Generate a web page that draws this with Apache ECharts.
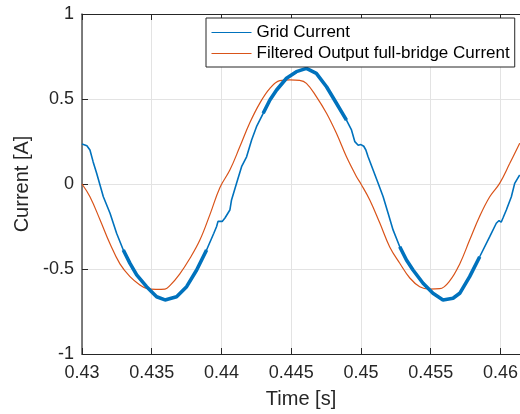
<!DOCTYPE html>
<html><head><meta charset="utf-8">
<script src="https://cdn.jsdelivr.net/npm/echarts@6/dist/echarts.min.js"></script>
<style>html,body{margin:0;padding:0;background:#fff}#c{width:520px;height:414px}</style>
</head><body><div id="c"></div>
<script>
const seriesNames = ['Grid Current', 'Filtered Output full-bridge Current'];
const xTicks = [0.43, 0.435, 0.44, 0.445, 0.45, 0.455, 0.46];
const yTicks = [-1, -0.5, 0, 0.5, 1];

const gridTime = [0.4300,0.4302,0.43035,0.43057,0.4308,0.43105,0.43153,0.43201,0.43248,0.43296,0.43344,0.43392,0.43463,0.43535,0.43595,0.43678,0.4375,0.43822,0.43893,0.43945,0.43965,0.43975,0.43989,0.44005,0.44025,0.44036,0.4406,0.44072,0.44108,0.44144,0.4418,0.44216,0.44251,0.44299,0.44347,0.44395,0.44466,0.44537,0.44609,0.4468,0.44753,0.44824,0.44896,0.44932,0.44956,0.4498,0.4500,0.4502,0.45035,0.45051,0.45087,0.45123,0.45159,0.45194,0.4523,0.45278,0.45326,0.45373,0.45445,0.45516,0.45588,0.4566,0.45708,0.45779,0.45851,0.45923,0.4597,0.4599,0.46005,0.46018,0.46042,0.46078,0.46102,0.46138];
const gridCurrent = [0.235,0.23,0.225,0.2,0.13,0.063,-0.075,-0.172,-0.29,-0.388,-0.467,-0.535,-0.604,-0.663,-0.682,-0.663,-0.604,-0.506,-0.388,-0.29,-0.25,-0.22,-0.212,-0.22,-0.2,-0.192,-0.153,-0.094,0.004,0.102,0.16,0.259,0.337,0.416,0.494,0.553,0.622,0.661,0.68,0.651,0.572,0.475,0.376,0.318,0.249,0.228,0.232,0.222,0.2,0.16,0.082,0.004,-0.075,-0.17,-0.27,-0.369,-0.447,-0.506,-0.584,-0.643,-0.682,-0.672,-0.643,-0.545,-0.428,-0.31,-0.231,-0.215,-0.225,-0.2,-0.153,-0.075,0.004,0.053];

const filteredTime = [0.4300,0.43057,0.43129,0.4320,0.43272,0.43344,0.43415,0.43463,0.4353,0.43595,0.4363,0.4370,0.43774,0.43845,0.43917,0.43989,0.4406,0.44132,0.44203,0.44275,0.44347,0.44418,0.4449,0.4456,0.44609,0.4468,0.44753,0.44824,0.44896,0.44968,0.4500,0.45063,0.45135,0.45206,0.45278,0.4535,0.45421,0.4549,0.45565,0.45636,0.45708,0.45779,0.45851,0.45923,0.45994,0.46066,0.46138];
const filteredCurrent = [0.0,-0.075,-0.21,-0.35,-0.47,-0.545,-0.594,-0.614,-0.62,-0.618,-0.598,-0.53,-0.437,-0.33,-0.18,-0.02,0.082,0.22,0.36,0.476,0.563,0.608,0.613,0.61,0.592,0.514,0.416,0.298,0.16,0.043,0.0,-0.094,-0.23,-0.37,-0.466,-0.553,-0.604,-0.618,-0.616,-0.57,-0.47,-0.33,-0.19,-0.075,0.004,0.12,0.24];

const BLUE = '#0072BD', ORANGE = '#D95319', INK = '#262626', GRIDC = '#E3E3E3';
const FONT = 'Liberation Sans';

const gridData = gridTime.map((t, i) => [t, gridCurrent[i]]);
const rippleData = gridTime.map((t, i) => [t, Math.abs(gridCurrent[i]) > 0.35 ? gridCurrent[i] : null]);
const filtData = filteredTime.map((t, i) => [t, filteredCurrent[i]]);

const fmt = v => String(+v.toFixed(4));
const chart = echarts.init(document.getElementById('c'), null, {renderer: 'canvas'});
chart.setOption({
  animation: false,
  backgroundColor: '#fff',
  textStyle: {fontFamily: FONT},
  grid: {left: 82, right: 0, top: 14, bottom: 60, containLabel: false, outerBoundsMode: 'none'},
  xAxis: [{
    type: 'value', min: xTicks[0], max: 0.4614, interval: 0.005, position: 'bottom',
    name: 'Time [s]', nameLocation: 'middle', nameGap: 35,
    nameTextStyle: {fontSize: 20, color: INK, fontFamily: FONT},
    axisLine: {show: true, onZero: false, lineStyle: {color: INK, width: 1}},
    axisTick: {show: true, inside: true, length: 6, lineStyle: {color: INK}},
    axisLabel: {fontSize: 18, color: INK, margin: 10, fontFamily: FONT, formatter: fmt, showMaxLabel: false},
    splitLine: {show: true, lineStyle: {color: GRIDC, width: 1}}
  }, {
    type: 'value', min: xTicks[0], max: 0.4614, interval: 0.005, position: 'top',
    axisLine: {show: true, onZero: false, lineStyle: {color: INK, width: 1}},
    axisTick: {show: true, inside: true, length: 6, lineStyle: {color: INK}},
    axisLabel: {show: false},
    splitLine: {show: false}
  }],
  yAxis: {
    type: 'value', min: yTicks[0], max: yTicks[yTicks.length - 1], interval: 0.5,
    name: 'Current [A]', nameLocation: 'middle', nameGap: 36,
    nameTextStyle: {fontSize: 20, color: INK, fontFamily: FONT},
    axisLine: {show: true, onZero: false, lineStyle: {color: '#555', width: 1.5}},
    axisTick: {show: true, inside: true, length: 6, lineStyle: {color: INK}},
    axisLabel: {fontSize: 18, color: INK, margin: 8, fontFamily: FONT, formatter: fmt},
    splitLine: {show: true, lineStyle: {color: GRIDC, width: 1}}
  },
  legend: {
    orient: 'vertical', left: 206, top: 18,
    padding: [6, 5, 5, 5], itemGap: 4, itemWidth: 40, itemHeight: 14,
    backgroundColor: '#fff', borderColor: INK, borderWidth: 1,
    itemStyle: {opacity: 0},
    lineStyle: {width: 1},
    textStyle: {fontSize: 17, color: '#000', fontFamily: FONT},
    data: seriesNames
  },
  series: [{
    name: seriesNames[0], type: 'line', data: gridData, showSymbol: false, symbol: 'none',
    lineStyle: {color: BLUE, width: 1.6}, itemStyle: {color: BLUE}, z: 3
  }, {
    name: 'ripple', type: 'line', data: rippleData, showSymbol: false, symbol: 'none',
    connectNulls: false, lineStyle: {color: BLUE, width: 3.6}, itemStyle: {color: BLUE}, z: 3, silent: true
  }, {
    name: seriesNames[1], type: 'line', data: filtData, showSymbol: false, symbol: 'none', smooth: 0.4,
    lineStyle: {color: ORANGE, width: 1.2}, itemStyle: {color: ORANGE}, z: 2
  }]
});
</script></body></html>
